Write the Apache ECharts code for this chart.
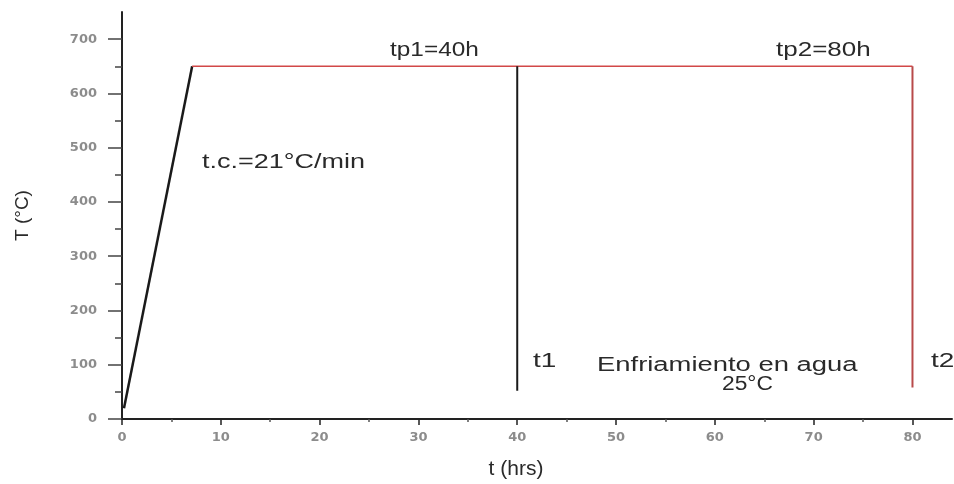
<!DOCTYPE html>
<html>
<head>
<meta charset="utf-8">
<script src="https://cdn.jsdelivr.net/npm/echarts@6/dist/echarts.min.js"></script>
<style>html,body{margin:0;padding:0;background:#fff;}#c{width:954px;height:484px;}</style>
</head>
<body>
<div id="c"></div>
<script>
// Data
const rampT = [0.2, 7.1];
const rampTemp = [20, 650];
const holdT = [7.1, 80];
const holdTemp = [650, 650];
const t1T = [40, 40];
const t1Temp = [650, 52];
const t2T = [80, 80];
const t2Temp = [650, 58];
const xMajor = [0, 10, 20, 30, 40, 50, 60, 70, 80];
const xMinor = [5, 15, 25, 35, 45, 55, 65, 75];
const yMajor = [0, 100, 200, 300, 400, 500, 600, 700];
const yMinor = [50, 150, 250, 350, 450, 550, 650];

const zip = (a, b) => a.map((v, i) => [v, b[i]]);

const chart = echarts.init(document.getElementById('c'));
const labelStyle = {color: '#8c8c8c', fontFamily: 'DejaVu Sans', fontSize: 13, fontWeight: 'bold'};
const XMAX = 84, YMAX = 750;

function ann(text, x, y, size, sx) {
  return {type: 'text', x: x, y: y, scaleX: sx, scaleY: 1,
    style: {text: text, x: 0, y: 0, fill: '#2a2a2a', font: size + 'px "Liberation Sans"', textBaseline: 'middle', textAlign: 'left'}};
}

chart.setOption({
  animation: false,
  backgroundColor: '#ffffff',
  grid: {left: 122, right: 2, top: 12, bottom: 65, containLabel: false, outerBoundsMode: 'none'},
  xAxis: [{
    type: 'value', min: 0, max: XMAX, interval: 10,
    name: 't (hrs)', nameLocation: 'middle', nameGap: 40,
    nameTextStyle: {fontFamily: 'Liberation Sans', fontSize: 21, color: '#2a2a2a', padding: [0, 42, 0, 0]},
    axisLine: {show: true, lineStyle: {color: '#222', width: 2}},
    axisTick: {show: true, customValues: xMajor, length: 6, lineStyle: {color: '#222', width: 1.5}},
    axisLabel: {customValues: xMajor, margin: 12, ...labelStyle},
    splitLine: {show: false}
  }, {
    type: 'value', min: 0, max: XMAX, position: 'bottom',
    axisLine: {show: false},
    axisTick: {show: true, customValues: xMinor, length: 3, lineStyle: {color: '#555', width: 1.5}},
    axisLabel: {show: false},
    splitLine: {show: false}
  }],
  yAxis: [{
    type: 'value', min: 0, max: YMAX, interval: 100,
    name: 'T (°C)', nameLocation: 'middle', nameGap: 90, nameRotate: 90,
    nameTextStyle: {fontFamily: 'Liberation Sans', fontSize: 19, color: '#2a2a2a'},
    axisLine: {show: true, lineStyle: {color: '#222', width: 2}},
    axisTick: {show: true, customValues: yMajor, length: 14, lineStyle: {color: '#444', width: 1.5}},
    axisLabel: {customValues: yMajor, margin: 25, ...labelStyle},
    splitLine: {show: false}
  }, {
    type: 'value', min: 0, max: YMAX, position: 'left',
    axisLine: {show: false},
    axisTick: {show: true, customValues: yMinor, length: 7, lineStyle: {color: '#444', width: 1.5}},
    axisLabel: {show: false},
    splitLine: {show: false}
  }],
  series: [
    {type: 'line', data: zip(rampT, rampTemp), showSymbol: false, lineStyle: {color: '#1a1a1a', width: 2.5}, z: 3},
    {type: 'line', data: zip(holdT, holdTemp), showSymbol: false, lineStyle: {color: '#d24848', width: 1.6}},
    {type: 'line', data: zip(t1T, t1Temp), showSymbol: false, lineStyle: {color: '#1a1a1a', width: 2}},
    {type: 'line', data: zip(t2T, t2Temp), showSymbol: false, lineStyle: {color: '#b84a4a', width: 2}}
  ],
  graphic: [
    ann('tp1=40h', 390, 40, 20, 1.22),
    ann('tp2=80h', 776, 40, 20, 1.3),
    ann('t.c.=21°C/min', 202, 152, 20, 1.35),
    ann('t1', 533, 351, 20, 1.4),
    ann('Enfriamiento en agua', 597, 355, 20, 1.37),
    ann('25°C', 722, 374, 20, 1.14),
    ann('t2', 931, 351, 20, 1.4)
  ]
});
</script>
</body>
</html>
